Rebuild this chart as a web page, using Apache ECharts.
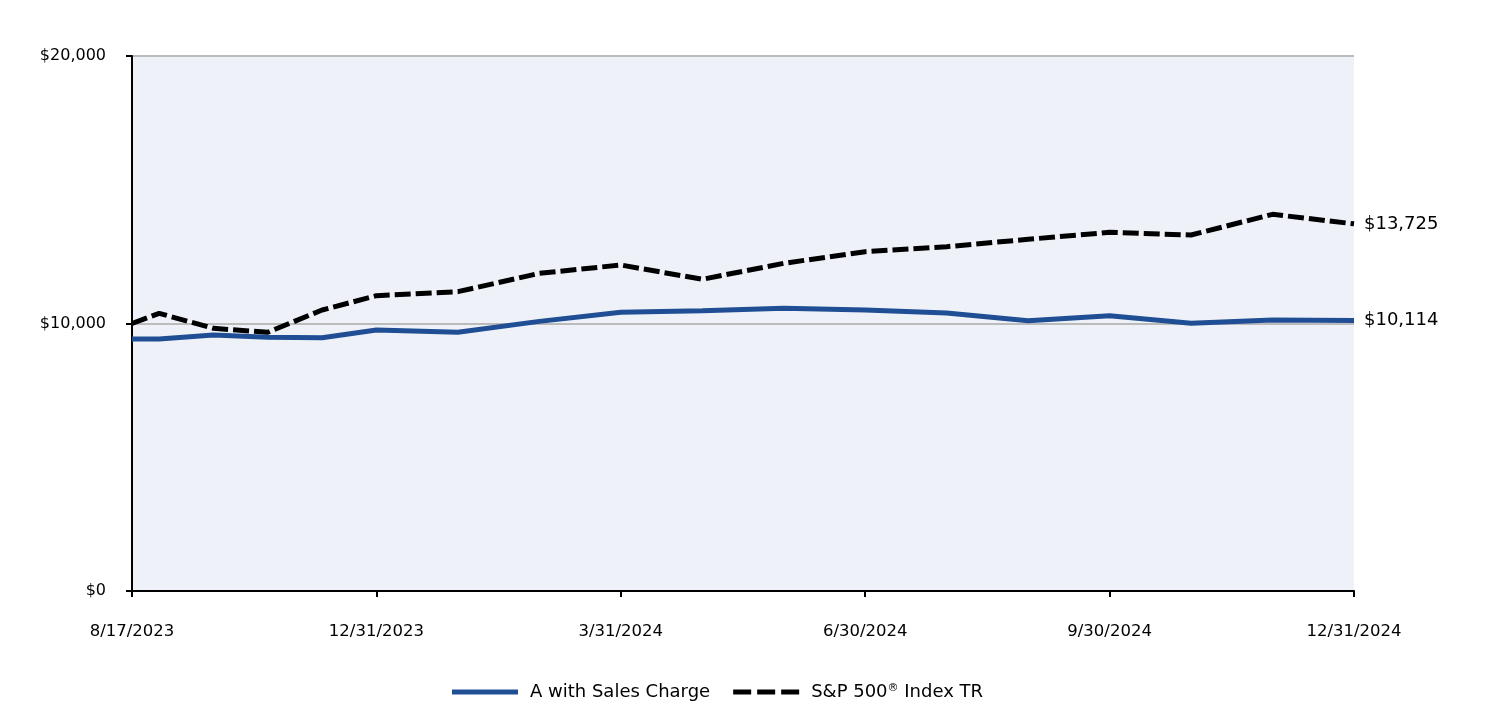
<!DOCTYPE html>
<html>
<head>
<meta charset="utf-8">
<script src="https://cdn.jsdelivr.net/npm/echarts@6/dist/echarts.min.js"></script>
<style>html,body{margin:0;padding:0;background:#fff}#c{width:1512px;height:708px}</style>
</head>
<body>
<div id="c"></div>
<script>
// Period-end dates and their position on the chart's (non-uniform) period scale
const dates = ['8/17/2023','8/31/2023','9/30/2023','10/31/2023','11/30/2023','12/31/2023','1/31/2024','2/29/2024','3/31/2024','4/30/2024','5/31/2024','6/30/2024','7/31/2024','8/31/2024','9/30/2024','10/31/2024','11/30/2024','12/31/2024'];
const periodIndex = [0,1,3,5,7,9,12,15,18,21,24,27,30,33,36,39,42,45];
const classA = [9425,9421,9570,9484,9470,9757,9671,10080,10418,10480,10568,10505,10390,10105,10293,10007,10131,10114];
const sp500 = [10000,10380,9820,9671,10505,11040,11190,11877,12187,11652,12250,12685,12872,13147,13409,13308,14082,13725];
const tickLabels = {0:'8/17/2023',9:'12/31/2023',18:'3/31/2024',27:'6/30/2024',36:'9/30/2024',45:'12/31/2024'};
const yTicks = [0,10000,20000];

const FONT = 'DejaVu Sans';
const fmt = v => '$' + Math.round(v).toLocaleString('en-US');
const chart = echarts.init(document.getElementById('c'), null, {renderer:'canvas'});
chart.setOption({
  animation:false,
  textStyle:{fontFamily:FONT},
  grid:{left:132,right:158,top:56,height:535,show:true,backgroundColor:'#eef2f8',borderWidth:0},
  xAxis:{type:'value',min:0,max:45,interval:9,
    axisLine:{lineStyle:{color:'#000',width:2}},
    axisTick:{show:true,length:6,lineStyle:{color:'#000',width:2}},
    axisLabel:{formatter:v=>tickLabels[v]||'',color:'#000',fontSize:16.5,margin:32,fontFamily:FONT},
    splitLine:{show:false}},
  yAxis:{type:'value',min:yTicks[0],max:yTicks[2],interval:10000,
    axisLine:{show:true,lineStyle:{color:'#000',width:2}},
    axisTick:{show:true,length:6,lineStyle:{color:'#000',width:2}},
    axisLabel:{formatter:fmt,color:'#000',fontSize:16,margin:26,fontFamily:FONT},
    splitLine:{show:true,lineStyle:{color:'#bbbbbb',width:2}}},
  legend:{bottom:2,left:447,itemWidth:66,itemHeight:5,itemGap:23,
    icon:'rect',
    textStyle:{fontSize:18,color:'#000',fontFamily:FONT,
      rich:{a:{fontSize:18,fontFamily:FONT,color:'#000'},p:{fontSize:18,fontFamily:FONT,color:'#000',padding:[0,0,0,7]},sup:{fontSize:11,fontFamily:FONT,color:'#000',verticalAlign:'top',padding:[0,0,8,0]}}},
    formatter:n=> n==='S&P 500® Index TR' ? '{p|S&P 500}{sup|®}{a| Index TR}' : '{p|'+n+'}',
    data:[{name:'A with Sales Charge',icon:'rect'},{name:'S&P 500® Index TR',icon:'path://M0,0H18V5H0Z M24,0H42V5H24Z M48,0H66V5H48Z'}]},
  series:[
    {name:'A with Sales Charge',type:'line',data:periodIndex.map((x,i)=>[x,classA[i]]),
      showSymbol:false,lineStyle:{color:'#1f4e94',width:5},itemStyle:{color:'#1f4e94'},
      endLabel:{show:true,formatter:p=>fmt(p.value[1]),fontSize:18,color:'#000',distance:10,fontFamily:FONT}},
    {name:'S&P 500® Index TR',type:'line',data:periodIndex.map((x,i)=>[x,sp500[i]]),
      showSymbol:false,lineStyle:{color:'#000',width:5,type:[16,5]},itemStyle:{color:'#000'},
      endLabel:{show:true,formatter:p=>fmt(p.value[1]),fontSize:18,color:'#000',distance:10,fontFamily:FONT}}
  ]
});
</script>
</body>
</html>
